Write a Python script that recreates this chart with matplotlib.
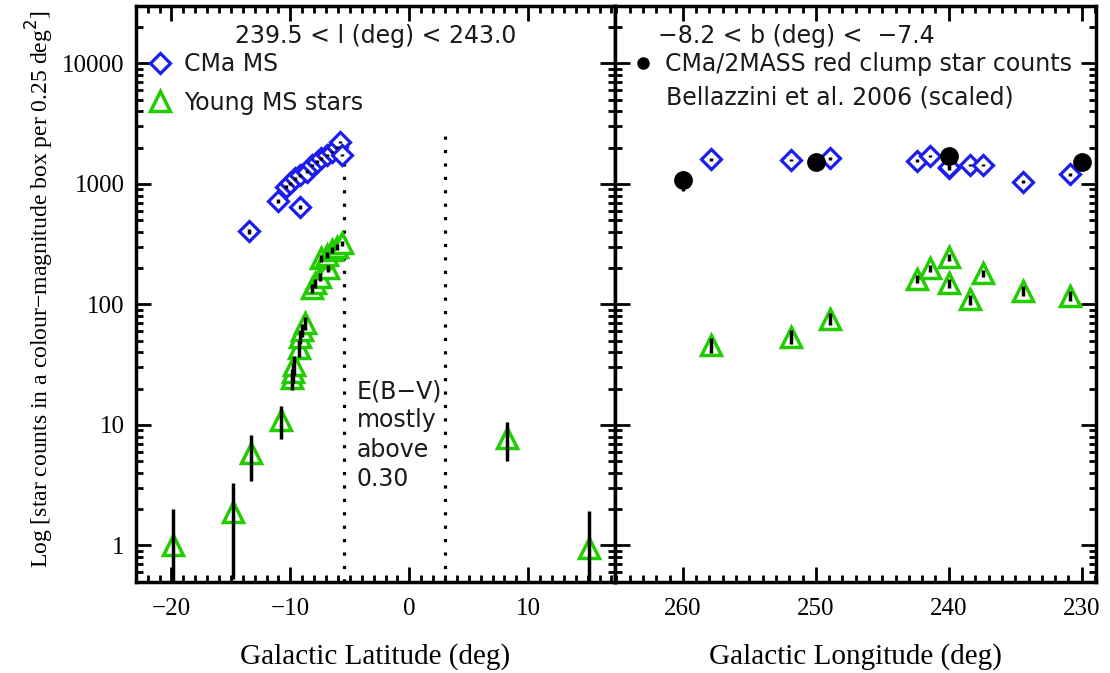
import numpy as np
import matplotlib
matplotlib.use("Agg")
import matplotlib.pyplot as plt
from matplotlib.ticker import FixedLocator, LogLocator, NullFormatter

# --- data ---
# left panel: counts vs Galactic latitude (239.5 < l < 243.0)
cma_lat = [-13.5, -11.0, -9.2, -10.4, -10.0, -9.6, -9.2, -8.6, -8.2, -7.8,
           -7.4, -6.95, -6.5, -6.1, -5.8, -5.7]
cma_counts = [406, 721, 647, 948, 1012, 1114, 1186, 1263, 1435, 1528,
              1630, 1738, 1850, 2036, 2240, 1738]

young_lat = [-19.9, -14.8, -13.3, -10.8, -9.9, -9.8, -9.7, -9.3, -9.2, -9.0,
             -8.8, -8.2, -7.9, -7.5, -6.8, -7.4, -6.95, -6.5, -6.1, -5.7,
             8.2, 15.1]
young_counts = [1.0, 1.9, 5.8, 11.0, 24.4, 27.7, 31.4, 43.2, 54, 61.3,
                69.7, 136, 150, 170, 199, 241, 257, 283, 301, 321,
                7.8, 0.95]

# right panel: counts vs Galactic longitude (-8.2 < b < -7.4)
cma_lon = [257.9, 251.9, 248.9, 242.4, 241.4, 240.0, 240.0, 238.4, 237.4, 234.4, 230.9]
cma_lon_counts = [1600, 1578, 1630, 1560, 1705, 1346, 1390, 1435, 1435, 1043, 1208]

young_lon = [257.9, 251.9, 248.9, 242.4, 241.4, 240.0, 240.0, 238.4, 237.4, 234.4, 230.9]
young_lon_counts = [46, 54, 76, 162, 199, 246, 150, 110, 181, 130, 118]

rc_lon = [260, 250, 240, 230]
rc_counts = [1077, 1528, 1705, 1528]
rc_err = [200, 200, 220, 200]

ebv_edges = [-5.5, 3.0]

BLUE = '#1c1cf0'
GREEN = '#22cc00'
SERIF = 'Liberation Serif'
SANS = 'DejaVu Sans'
TXT = '#1a1a1a'
FS = 17

fig = plt.figure(figsize=(11.1, 6.73), dpi=100)
axl = fig.add_axes([0.1223, 0.1357, 0.4318, 0.8554])
axr = fig.add_axes([0.5541, 0.1357, 0.4330, 0.8554])


def style_axis(ax):
    ax.set_yscale('log')
    ax.set_ylim(0.5, 30000)
    ax.yaxis.set_major_locator(FixedLocator([1, 10, 100, 1000, 10000]))
    ax.yaxis.set_minor_locator(LogLocator(base=10, subs=np.arange(2, 10)))
    ax.yaxis.set_minor_formatter(NullFormatter())
    ax.tick_params(which='both', direction='in', top=True, right=True, width=2)
    ax.tick_params(which='major', length=11)
    ax.tick_params(which='minor', length=5)
    ax.tick_params(axis='x', which='major', labelsize=18, pad=12)
    ax.tick_params(axis='y', which='major', labelsize=18, pad=8)
    for sp in ax.spines.values():
        sp.set_linewidth(2.5)


# left panel
for x in ebv_edges:
    axl.axvline(x, ymax=0.79, color='black', lw=2.3, ls=(0, (1, 3.2)), zorder=1)
axl.plot(cma_lat, cma_counts, ls='none', marker='D', ms=10, mfc='white',
         mec=BLUE, mew=2.3, zorder=2)
axl.plot(young_lat, young_counts, ls='none', marker='^', ms=14, mfc='white',
         mec=GREEN, mew=2.5, zorder=2)
axl.errorbar(cma_lat, cma_counts, yerr=np.sqrt(cma_counts), fmt='none',
             ecolor='black', elinewidth=2.5, capsize=0, zorder=3)
axl.errorbar(young_lat, young_counts, yerr=np.sqrt(young_counts), fmt='none',
             ecolor='black', elinewidth=2.5, capsize=0, zorder=3)
axl.set_xlim(-23, 17.3)
axl.xaxis.set_major_locator(FixedLocator([-20, -10, 0, 10]))
axl.xaxis.set_minor_locator(FixedLocator(np.arange(-23, 18, 1)))
style_axis(axl)
axl.set_xticklabels(['\u221220', '\u221210', '0', '10'], fontfamily=SERIF)
axl.set_yticklabels(['1', '10', '100', '1000', '10000'], fontfamily=SERIF)
axl.set_xlabel('Galactic Latitude (deg)', fontfamily=SERIF, fontsize=21, labelpad=16)

axl.text(0.5, 0.968, '239.5 < l (deg) < 243.0', transform=axl.transAxes,
         ha='center', va='top', fontsize=FS, family=SANS, color=TXT)
axl.text(-4.4, 24, 'E(B\u2212V)\nmostly\nabove\n0.30', ha='left', va='top',
         fontsize=FS, family=SANS, color=TXT, linespacing=1.28)

h1, = axl.plot([], [], ls='none', marker='D', ms=10, mfc='white', mec=BLUE, mew=2.3)
h2, = axl.plot([], [], ls='none', marker='^', ms=14, mfc='white', mec=GREEN, mew=2.5)
leg = axl.legend([h1, h2], ['CMa MS', 'Young MS stars'], loc='upper left',
                 bbox_to_anchor=(-0.008, 0.949), frameon=False, handlelength=1.0,
                 handletextpad=0.5, labelspacing=0.62, borderaxespad=0.3,
                 prop={'family': SANS, 'size': FS})
for t in leg.get_texts():
    t.set_color(TXT)

# right panel
axr.plot(cma_lon, cma_lon_counts, ls='none', marker='D', ms=10, mfc='white',
         mec=BLUE, mew=2.3, zorder=2)
axr.plot(young_lon, young_lon_counts, ls='none', marker='^', ms=14, mfc='white',
         mec=GREEN, mew=2.5, zorder=2)
axr.errorbar(cma_lon, cma_lon_counts, yerr=np.sqrt(cma_lon_counts), fmt='none',
             ecolor='black', elinewidth=2.5, capsize=0, zorder=3)
axr.errorbar(young_lon, young_lon_counts, yerr=np.sqrt(young_lon_counts), fmt='none',
             ecolor='black', elinewidth=2.5, capsize=0, zorder=3)
axr.errorbar(rc_lon, rc_counts, yerr=rc_err, fmt='o', ms=12.5, color='black',
             elinewidth=2.5, capsize=0, zorder=4)
axr.set_xlim(265.1, 228.95)
axr.xaxis.set_major_locator(FixedLocator([260, 250, 240, 230]))
axr.xaxis.set_minor_locator(FixedLocator(np.arange(229, 266, 1)))
style_axis(axr)
axr.set_xticklabels(['260', '250', '240', '230'], fontfamily=SERIF)
axr.tick_params(axis='y', labelleft=False)
axr.set_xlabel('Galactic Longitude (deg)', fontfamily=SERIF, fontsize=21, labelpad=16)

axr.text(0.09, 0.968, '\u22128.2 < b (deg) <  \u22127.4', transform=axr.transAxes,
         ha='left', va='top', fontsize=FS, family=SANS, color=TXT)
h3, = axr.plot([], [], ls='none', marker='o', ms=8, color='black')
leg2 = axr.legend([h3], ['CMa/2MASS red clump star counts'], loc='upper left',
                  bbox_to_anchor=(0.0, 0.949), frameon=False, handlelength=1.0,
                  handletextpad=0.4, borderaxespad=0.3,
                  prop={'family': SANS, 'size': FS})
for t in leg2.get_texts():
    t.set_color(TXT)
axr.text(0.105, 0.841, 'Bellazzini et al. 2006 (scaled)', transform=axr.transAxes,
         ha='left', va='center', fontsize=FS, family=SANS, color=TXT)

fig.text(0.036, 0.57, 'Log [star counts in a colour\u2212magnitude box per 0.25 deg$^2$]',
         rotation=90, ha='center', va='center', fontsize=17, family=SERIF)

fig.savefig('out.png', dpi=100)
